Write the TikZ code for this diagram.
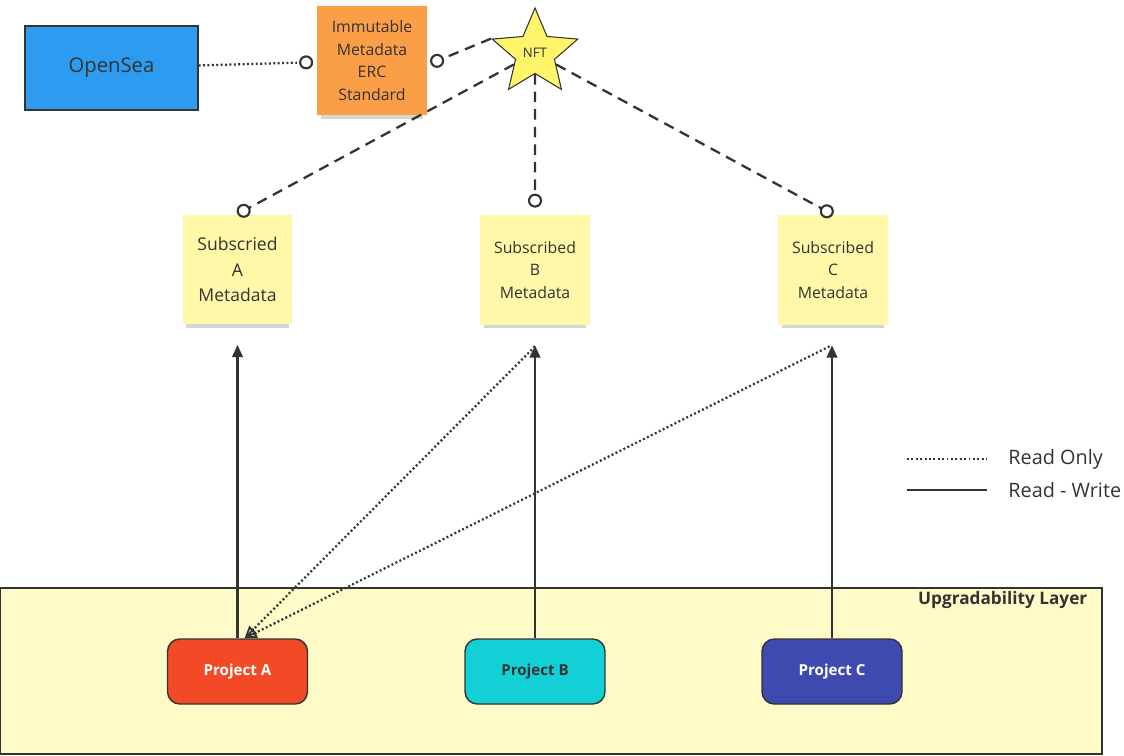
\documentclass[tikz,border=0pt]{standalone}
\usepackage{fontspec}
\setmainfont{Open Sans}
\usetikzlibrary{shapes.geometric, arrows.meta, shadows, positioning}
\definecolor{nftline}{RGB}{51,51,51}
\definecolor{nftblue}{RGB}{45,155,239}
\definecolor{nftorange}{RGB}{250,158,72}
\definecolor{nftstar}{RGB}{255,245,107}
\definecolor{nftsticky}{RGB}{255,248,168}
\definecolor{nftlayer}{RGB}{255,251,200}
\definecolor{nftred}{RGB}{242,74,38}
\definecolor{nftcyan}{RGB}{19,207,214}
\definecolor{nftindigo}{RGB}{63,74,174}

\begin{document}
\begin{tikzpicture}[
    x=0.02cm, y=-0.02cm,
    sticky/.style={
        rectangle,
        fill=nftsticky,
        minimum width=2.2cm,
        minimum height=2.2cm,
        align=center,
        text=nftline,
        drop shadow={shadow xshift=0pt, shadow yshift=-4.5pt, shadow scale=0.93, opacity=0.16, fill=black}
    },
    project/.style={
        rectangle,
        rounded corners=7pt,
        draw=nftline,
        line width=0.8pt,
        minimum width=2.8cm,
        minimum height=1.3cm,
        font=\bfseries\fontsize{8.6}{10}\selectfont
    },
    dashconn/.style={
        draw=nftline,
        line width=1.3pt,
        dash pattern=on 6pt off 4pt,
        -{Circle[open, length=8pt, line width=1.2pt]}
    },
    readonly/.style={
        draw=nftline,
        line width=1.3pt,
        dash pattern=on 1.1pt off 1.4pt
    },
    readwrite/.style={
        draw=nftline,
        line width=1.3pt
    },
    legendlabel/.style={
        font=\fontsize{11.3}{13}\selectfont,
        text=nftline,
        inner sep=0pt
    }
]
\useasboundingbox (0,0) rectangle (1124,756);

% Upgradability layer
\node[rectangle, draw=nftline, line width=0.8pt, fill=nftlayer,
      minimum width=22.04cm, minimum height=3.32cm] (layer) at (551,671) {};
\node[anchor=north east, inner sep=0pt, text=nftline,
      font=\bfseries\fontsize{9.8}{11}\selectfont]
      (layerlabel) at ([xshift=-0.3cm, yshift=-0.08cm]layer.north east) {Upgradability Layer};

% Top row
\node[rectangle, draw=nftline, line width=0.8pt, fill=nftblue,
      minimum width=3.46cm, minimum height=1.68cm,
      font=\fontsize{11.5}{13}\selectfont, text=nftline] (opensea) at (111.5,68) {OpenSea};
\node[sticky, fill=nftorange, font=\fontsize{9}{13}\selectfont] (immutable) at (372,60.5)
      {Immutable\\Metadata\\ERC\\Standard};
\node[star, star points=5, star point ratio=2.2, minimum size=1.8cm, inner sep=0pt,
      draw=nftline, line width=0.6pt, fill=nftstar,
      font=\fontsize{7.5}{9}\selectfont, text=nftline] (nft) at (535,53) {NFT};

% Subscribed metadata
\node[sticky, font=\fontsize{10}{14.7}\selectfont] (subA) at (237.5,269.5) {Subscried\\A\\Metadata};
\node[sticky, font=\fontsize{9}{13}\selectfont] (subB) at (535,270) {Subscribed\\B\\Metadata};
\node[sticky, font=\fontsize{9}{13}\selectfont] (subC) at (833,270) {Subscribed\\C\\Metadata};

% Projects
\node[project, fill=nftred, text=white] (projA) at (237.5,671.5) {Project A};
\node[project, fill=nftcyan, text=nftline] (projB) at (535,671.5) {Project B};
\node[project, fill=nftindigo, text=white] (projC) at (832,671.5) {Project C};

% Metadata links
\draw[readonly, -{Circle[open, length=8pt, line width=1.2pt]}, shorten >=2pt] (opensea) -- (immutable);
\draw[dashconn, shorten >=2pt] (nft.outer point 2) -- ([yshift=-2.5pt]immutable.east);
\draw[dashconn] (nft) -- (subA.north);
\draw[dashconn, shorten >=4pt] (nft) -- (subB.north);
\draw[dashconn] (nft) -- (subC.north);

% Read - write
\draw[readwrite, -{Triangle[length=7pt, width=6pt]}, shorten >=0.4cm] (projA) -- (subA);
\draw[readwrite, -{Triangle[length=7pt, width=6pt]}, shorten >=0.4cm] (projB) -- (subB);
\draw[readwrite, -{Triangle[length=7pt, width=6pt]}, shorten >=0.4cm] (projC.north) -- (projC.north |- subC.south);

% Read only
\draw[readonly, -{Triangle[open, length=7pt, width=6pt, line width=1.1pt]}] ([yshift=-0.42cm]subB.south) -- ([xshift=4pt]projA.north);
\draw[readonly, -{Triangle[open, length=7pt, width=6pt, line width=1.1pt]}] ([xshift=-2pt, yshift=-0.42cm]subC.south) -- ([xshift=4pt]projA.north);

% Legend
\coordinate (roStart) at (907,459);
\coordinate (roEnd) at (987,459);
\coordinate (rwStart) at (907,490);
\coordinate (rwEnd) at (987,490);
\draw[readonly] (roStart) -- (roEnd);
\draw[readwrite] (rwStart) -- (rwEnd);
\node[legendlabel, right=0.42cm of roEnd] (rolabel) {Read Only};
\node[legendlabel, right=0.42cm of rwEnd] (rwlabel) {Read - Write};

\end{tikzpicture}
\end{document}
